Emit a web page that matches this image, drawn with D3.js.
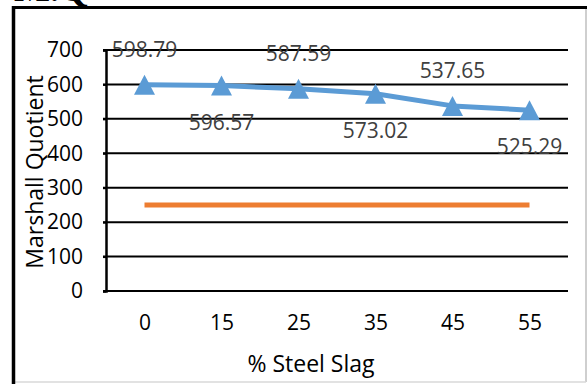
<!DOCTYPE html>
<html>
<head>
<meta charset="utf-8">
<script src="https://cdn.jsdelivr.net/npm/d3@7"></script>
<style>
  html, body { margin: 0; padding: 0; background: #fff; }
  svg { display: block; }
</style>
</head>
<body>
<script>
// Marshall Quotient versus steel slag content
const categories = ["0", "15", "25", "35", "45", "55"];
const mqValues = [598.79, 596.57, 587.59, 573.02, 537.65, 525.29];
const limitValues = [250, 250, 250, 250, 250, 250];
const yTicks = [0, 100, 200, 300, 400, 500, 600, 700];
// label placement per point: above or below the marker
const labelSide = ["above", "below", "above", "below", "above", "below"];

const W = 588, H = 384;
const font = "'Open Sans', 'Noto Sans', sans-serif";

const svg = d3.select("body").append("svg")
  .attr("width", W).attr("height", H);

svg.append("rect").attr("width", W).attr("height", H).attr("fill", "#fff");

// page title (runs off the top edge)
svg.append("text")
  .attr("x", 14).attr("y", 1)
  .attr("font-family", "'Liberation Serif', serif")
  .attr("font-weight", "bold")
  .attr("font-size", 38)
  .attr("fill", "#000")
  .text("M.Q");

// chart frame
svg.append("line").attr("x1", 586).attr("x2", 586).attr("y1", 8).attr("y2", 382)
  .attr("stroke", "#bfbfbf").attr("stroke-width", 1.5);
svg.append("line").attr("x1", 12).attr("x2", 586).attr("y1", 382).attr("y2", 382)
  .attr("stroke", "#d9d9d9").attr("stroke-width", 1.5);
svg.append("line").attr("x1", 12).attr("x2", 587).attr("y1", 7.5).attr("y2", 7.5)
  .attr("stroke", "#000").attr("stroke-width", 3);
svg.append("line").attr("x1", 13.5).attr("x2", 13.5).attr("y1", 6).attr("y2", H)
  .attr("stroke", "#000").attr("stroke-width", 3.5);

const plot = { left: 106, right: 568, top: 50, bottom: 291 };

const x = d3.scalePoint().domain(categories)
  .range([plot.left, plot.right]).padding(0.5);
const y = d3.scaleLinear().domain([0, 700])
  .range([plot.bottom, plot.top]);

// horizontal gridlines
svg.append("g").selectAll("line").data(yTicks).join("line")
  .attr("x1", plot.left - 3).attr("x2", plot.right)
  .attr("y1", d => y(d)).attr("y2", d => y(d))
  .attr("stroke", "#000").attr("stroke-width", 2);

// y axis
const yAxis = svg.append("g")
  .attr("transform", `translate(${plot.left},0)`)
  .call(d3.axisLeft(y).tickValues(yTicks).tickSize(3).tickPadding(20));
yAxis.select(".domain").attr("stroke", "#000").attr("stroke-width", 2.5);
yAxis.selectAll(".tick line").attr("stroke", "#000").attr("stroke-width", 2);
yAxis.selectAll(".tick text")
  .attr("font-family", font).attr("font-size", 21).attr("fill", "#000");

// x axis labels (no visible axis line)
const xAxis = svg.append("g")
  .attr("transform", `translate(0,${plot.bottom})`)
  .call(d3.axisBottom(x).tickSize(0).tickPadding(24));
xAxis.select(".domain").remove();
xAxis.selectAll(".tick text")
  .attr("font-family", font).attr("font-size", 21).attr("fill", "#000");

// axis titles
svg.append("text")
  .attr("transform", "translate(43,172) rotate(-90)")
  .attr("text-anchor", "middle")
  .attr("font-family", font).attr("font-size", 23).attr("fill", "#000")
  .text("Marshall Quotient");
svg.append("text")
  .attr("x", 311).attr("y", 372)
  .attr("text-anchor", "middle")
  .attr("font-family", font).attr("font-size", 23).attr("fill", "#000")
  .text("% Steel Slag");

// reference line
svg.append("path")
  .datum(limitValues)
  .attr("fill", "none")
  .attr("stroke", "#ED7D31").attr("stroke-width", 5)
  .attr("d", d3.line().x((d, i) => x(categories[i])).y(d => y(d)));

// MQ series
svg.append("path")
  .datum(mqValues)
  .attr("fill", "none")
  .attr("stroke", "#5B9BD5").attr("stroke-width", 5)
  .attr("stroke-linejoin", "round")
  .attr("d", d3.line().x((d, i) => x(categories[i])).y(d => y(d)));

svg.append("g").selectAll("path").data(mqValues).join("path")
  .attr("transform", (d, i) => `translate(${x(categories[i])},${y(d)})`)
  .attr("d", "M0,-10L10.5,10L-10.5,10Z")
  .attr("fill", "#5B9BD5");

// value labels
svg.append("g").selectAll("text").data(mqValues).join("text")
  .attr("x", (d, i) => x(categories[i]))
  .attr("y", (d, i) => labelSide[i] === "above" ? y(d) - 28 : y(d) + 44)
  .attr("text-anchor", "middle")
  .attr("font-family", font).attr("font-size", 21).attr("fill", "#404040")
  .text(d => d.toFixed(2));
</script>
</body>
</html>
